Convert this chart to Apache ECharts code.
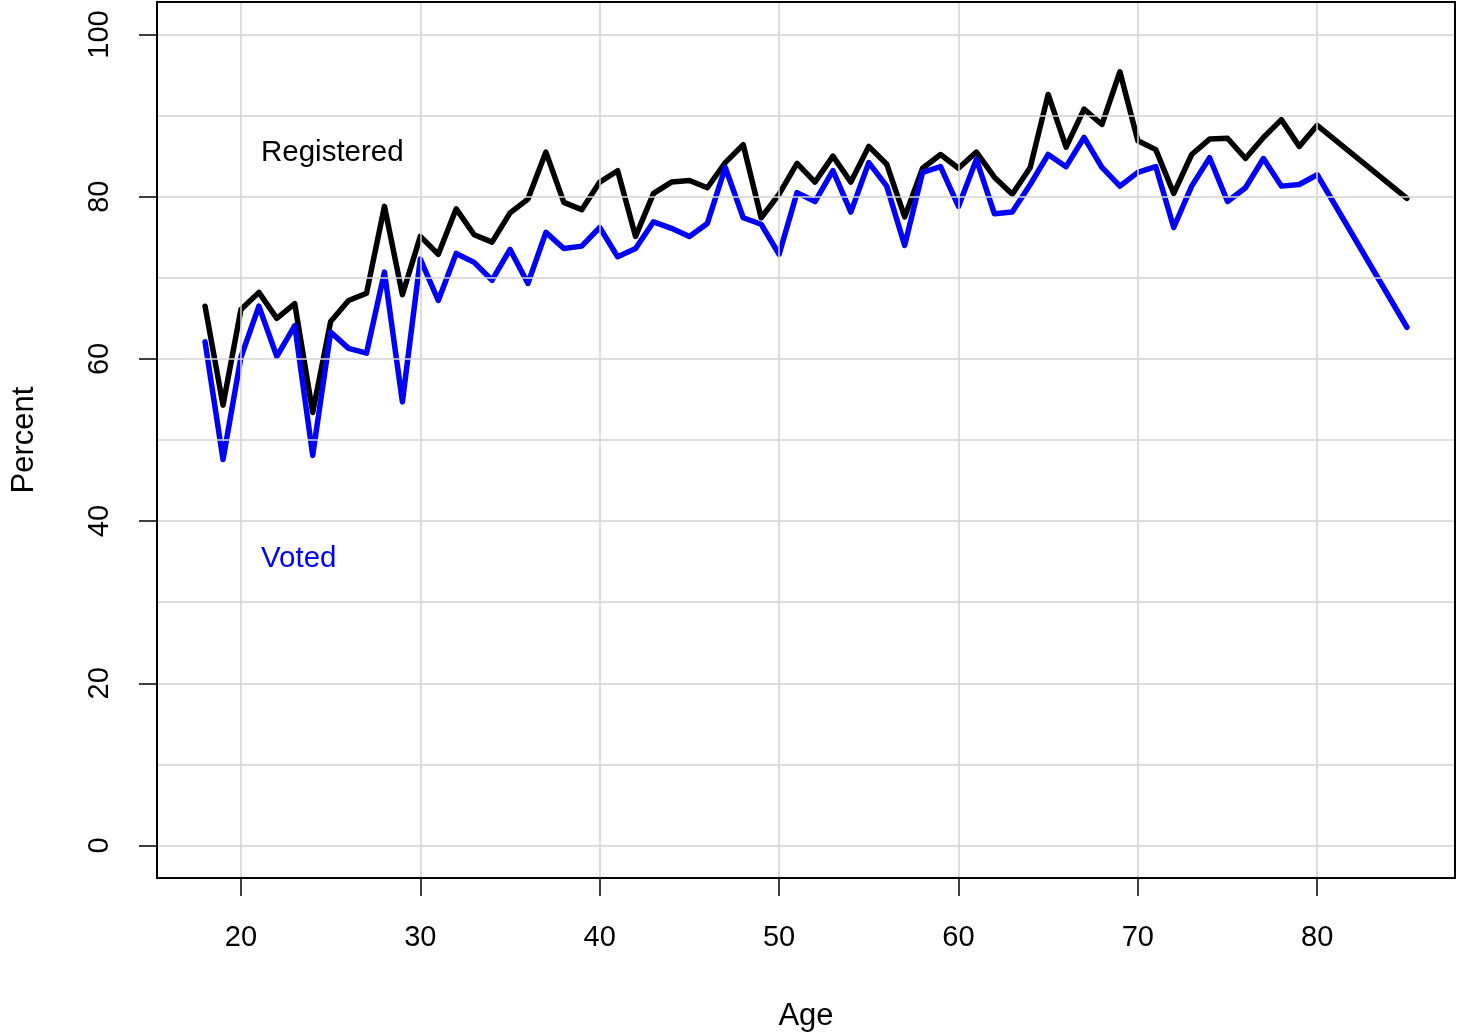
<!DOCTYPE html>
<html>
<head>
<meta charset="utf-8">
<title>Registered and voted by age</title>
<script src="https://cdn.jsdelivr.net/npm/echarts@6/dist/echarts.min.js"></script>
<style>
  html, body { margin: 0; padding: 0; background: #fff; }
  #chart { width: 1466px; height: 1033px; }
</style>
</head>
<body>
<div id="chart"></div>
<script>
// ages (one per year 18-80, then 85)
const ages = [18, 19, 20, 21, 22, 23, 24, 25, 26, 27, 28, 29,
  30, 31, 32, 33, 34, 35, 36, 37, 38, 39,
  40, 41, 42, 43, 44, 45, 46, 47, 48, 49,
  50, 51, 52, 53, 54, 55, 56, 57, 58, 59,
  60, 61, 62, 63, 64, 65, 66, 67, 68, 69,
  70, 71, 72, 73, 74, 75, 76, 77, 78, 79,
  80, 85]

// percent registered
const registered = [66.5, 54.3, 66.1, 68.2, 65.0, 66.8, 53.4, 64.6, 67.2, 68.1, 78.8, 67.9,
  75.1, 72.9, 78.5, 75.3, 74.4, 78.0, 79.7, 85.5, 79.3, 78.4,
  81.8, 83.2, 75.1, 80.4, 81.8, 82.0, 81.1, 84.2, 86.4, 77.4,
  80.3, 84.1, 81.8, 85.0, 81.8, 86.2, 84.0, 77.5, 83.5, 85.2,
  83.5, 85.5, 82.4, 80.3, 83.6, 92.6, 86.1, 90.8, 88.9, 95.4,
  86.9, 85.8, 80.4, 85.2, 87.1, 87.2, 84.7, 87.3, 89.5, 86.2,
  88.8, 79.8]

// percent voted
const voted = [62.1, 47.6, 60.2, 66.5, 60.3, 64.1, 48.1, 63.3, 61.3, 60.7, 70.7, 54.7,
  72.3, 67.2, 73.0, 71.9, 69.7, 73.5, 69.3, 75.6, 73.6, 73.9,
  76.2, 72.6, 73.6, 76.9, 76.1, 75.1, 76.7, 83.6, 77.4, 76.6,
  72.9, 80.5, 79.4, 83.2, 78.1, 84.2, 81.3, 74.0, 83.0, 83.7,
  78.8, 84.6, 77.9, 78.1, 81.5, 85.2, 83.7, 87.3, 83.6, 81.3,
  83.0, 83.7, 76.2, 81.3, 84.8, 79.4, 81.1, 84.7, 81.3, 81.5,
  82.7, 63.9]

const xTicks = [20, 30, 40, 50, 60, 70, 80]
const yTicks = [0, 20, 40, 60, 80, 100]
const xGrid = [20, 30, 40, 50, 60, 70, 80]
const yGrid = [0, 10, 20, 30, 40, 50, 60, 70, 80, 90, 100]

const FONT = '"Liberation Sans", Arial, Helvetica, sans-serif'
const G = { left: 157, top: 2, right: 11, bottom: 155 } // plot box

const chart = echarts.init(document.getElementById('chart'))

const toPairs = (vals) => ages.map((a, i) => [a, vals[i]])

chart.setOption({
  animation: false,
  backgroundColor: '#ffffff',
  textStyle: { fontFamily: FONT },
  grid: {
    left: G.left, top: G.top, right: G.right, bottom: G.bottom,
    containLabel: false,
    outerBoundsMode: 'none'
  },
  xAxis: {
    type: 'value',
    min: 15.32, // R pads the 18..85 range by 4%
    max: 87.68,
    name: 'Age',
    nameLocation: 'middle',
    nameGap: 123,
    nameTextStyle: { fontSize: 31, color: '#000', fontFamily: FONT },
    axisLine: { show: false, onZero: false },
    splitLine: { show: false },
    axisTick: {
      show: true,
      customValues: xTicks,
      length: 18,
      lineStyle: { color: '#000', width: 1.5 }
    },
    axisLabel: {
      customValues: xTicks,
      fontSize: 29,
      color: '#000',
      fontFamily: FONT,
      margin: 45
    }
  },
  yAxis: {
    type: 'value',
    min: -4,
    max: 104,
    name: 'Percent',
    nameLocation: 'middle',
    nameGap: 117,
    nameRotate: 90,
    nameTextStyle: { fontSize: 31, color: '#000', fontFamily: FONT },
    axisLine: { show: false, onZero: false },
    splitLine: { show: false },
    axisTick: {
      show: true,
      customValues: yTicks,
      length: 18,
      lineStyle: { color: '#000', width: 1.5 }
    },
    axisLabel: {
      customValues: yTicks,
      rotate: 90,
      fontSize: 29,
      color: '#000',
      fontFamily: FONT,
      margin: 43
    }
  },
  graphic: [
    {
      type: 'rect',
      shape: { x: G.left, y: G.top, width: 1466 - G.left - G.right, height: 1033 - G.top - G.bottom },
      style: { fill: 'none', stroke: '#000', lineWidth: 2 },
      z: 10,
      silent: true
    },
    {
      type: 'text',
      x: 261,
      y: 153,
      style: { text: 'Registered', fill: '#000', font: '29.5px ' + FONT, textAlign: 'left', textVerticalAlign: 'middle' },
      z: 10
    },
    {
      type: 'text',
      x: 261,
      y: 559,
      style: { text: 'Voted', fill: '#0000ff', font: '29.5px ' + FONT, textAlign: 'left', textVerticalAlign: 'middle' },
      z: 10
    }
  ],
  series: [
    {
      // carries the light grey grid lines only
      name: 'grid',
      type: 'line',
      z: 1,
      silent: true,
      data: toPairs(registered),
      showSymbol: false,
      lineStyle: { opacity: 0 },
      markLine: {
        silent: true,
        symbol: 'none',
        label: { show: false },
        lineStyle: { color: '#d3d3d3', width: 1.5, type: 'solid' },
        data: xGrid.map(v => ({ xAxis: v })).concat(yGrid.map(v => ({ yAxis: v })))
      }
    },
    {
      name: 'Registered',
      type: 'line',
      z: 3,
      data: toPairs(registered),
      showSymbol: false,
      smooth: false,
      lineStyle: { color: '#000000', width: 5.5, join: 'round', cap: 'round' }
    },
    {
      name: 'Voted',
      type: 'line',
      z: 4,
      data: toPairs(voted),
      showSymbol: false,
      smooth: false,
      lineStyle: { color: '#0000ff', width: 5.5, join: 'round', cap: 'round' }
    }
  ]
})
</script>
</body>
</html>
